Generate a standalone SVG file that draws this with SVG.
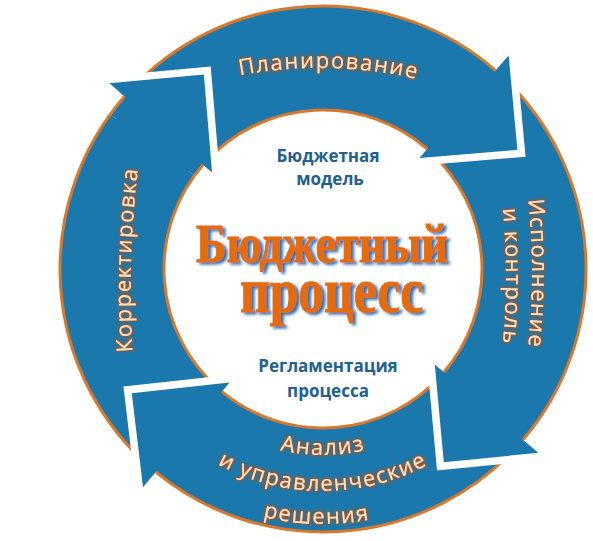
<svg xmlns="http://www.w3.org/2000/svg" xmlns:xlink="http://www.w3.org/1999/xlink" width="593" height="541" viewBox="0 0 593 541">
<defs>
<style>
.arrow{fill:#1a78ac;stroke:#ffffff;stroke-width:15;paint-order:stroke;stroke-linejoin:miter;stroke-miterlimit:4}
.edge{fill:none;stroke:#d8782c;stroke-width:3}
.lbl{font-family:"Open Sans","Noto Sans","DejaVu Sans",sans-serif;font-size:22px;letter-spacing:1.5px;fill:#fbe6c4;filter:url(#glow)}
.inner{font-family:"Open Sans","Noto Sans","DejaVu Sans",sans-serif;font-size:17px;font-weight:bold;fill:#22608f;text-anchor:middle}
.title{font-family:"Liberation Serif","Times New Roman",serif;font-weight:bold;fill:#e46c0a;stroke:#e46c0a;stroke-width:1;text-anchor:middle;filter:url(#shadow)}
</style>
<filter id="glow" x="-20%" y="-20%" width="140%" height="140%">
<feMorphology in="SourceAlpha" operator="dilate" radius="1" result="d"/>
<feGaussianBlur in="d" stdDeviation="0.9" result="b"/>
<feFlood flood-color="#b0501a"/>
<feComposite in2="b" operator="in" result="g"/>
<feMerge><feMergeNode in="g"/><feMergeNode in="SourceGraphic"/></feMerge>
</filter>
<filter id="shadow" x="-10%" y="-20%" width="120%" height="150%">
<feGaussianBlur in="SourceAlpha" stdDeviation="1.6" result="b"/>
<feOffset in="b" dx="3" dy="2" result="o"/>
<feFlood flood-color="#2f6fae"/>
<feComposite in2="o" operator="in" result="s"/>
<feMerge><feMergeNode in="s"/><feMergeNode in="SourceGraphic"/></feMerge>
</filter>
<clipPath id="clipL"><polygon points="323,269 64,81 104,8 188,-21"/></clipPath>
<path id="pT" d="M 232 77 A 430 430 0 0 1 425 81"/>
<path id="pR1" d="M 527 190 A 700 700 0 0 1 527 357"/>
<path id="pR2" d="M 501 193 A 700 700 0 0 1 501 360"/>
<path id="pL" d="M 133 358 A 1000 1000 0 0 1 139 162"/>
<path id="pB1" d="M 161.92 362 A 186 186 0 0 0 484.08 362"/>
<path id="pB2" d="M 130.74 380 A 222 222 0 0 0 515.26 380"/>
<path id="pB3" d="M 102.16 396.5 A 255 255 0 0 0 543.84 396.5"/>
</defs>
<rect width="593" height="541" fill="#ffffff"/>

<g id="cycle">
<g id="node-correction">
<g id="arrowL">
<path class="arrow" d="M 150.46 467.49 A 263 263 0 0 1 124.51 96.46 L 109.42 83.34 L 203.87 74.60 L 212.06 172.56 L 203.00 164.69 A 159 159 0 0 0 218.69 389.00 Z"/>
<path class="edge" d="M 150.46 467.49 A 263 263 0 0 1 124.51 96.46"/>
<path class="edge" d="M 218.69 389.00 A 159 159 0 0 1 203.00 164.69"/>
</g>
<text class="lbl"><textPath href="#pL" startOffset="50%" text-anchor="middle">Корректировка</textPath></text>
</g>

<g id="node-analysis">
<path class="arrow" d="M 518.45 444.98 A 263 263 0 0 1 155.71 471.94 L 142.99 487.37 L 131.78 393.18 L 229.50 382.43 L 221.86 391.69 A 159 159 0 0 0 441.16 375.39 Z"/>
<path class="edge" d="M 518.45 444.98 A 263 263 0 0 1 155.71 471.94"/>
<path class="edge" d="M 441.16 375.39 A 159 159 0 0 1 221.86 391.69"/>
<text class="lbl"><textPath href="#pB1" startOffset="50%" text-anchor="middle">Анализ</textPath></text>
<text class="lbl"><textPath href="#pB2" startOffset="50%" text-anchor="middle">и управленческие</textPath></text>
<text class="lbl"><textPath href="#pB3" startOffset="48.8%" text-anchor="middle">решения</textPath></text>
</g>

<g id="node-execution">
<path class="arrow" d="M 500.68 75.10 A 263 263 0 0 1 522.99 439.81 L 538.20 452.79 L 443.82 462.36 L 434.78 364.47 L 443.91 372.26 A 159 159 0 0 0 430.42 151.77 Z"/>
<path class="edge" d="M 500.68 75.10 A 263 263 0 0 1 522.99 439.81"/>
<path class="edge" d="M 430.42 151.77 A 159 159 0 0 1 443.91 372.26"/>
<text class="lbl"><textPath href="#pR1" startOffset="50%" text-anchor="middle">Исполнение</textPath></text>
<text class="lbl"><textPath href="#pR2" startOffset="50%" text-anchor="middle">и контроль</textPath></text>
</g>

<g id="node-planning">
<path class="arrow" d="M 129.10 91.32 A 263 263 0 0 1 495.54 70.51 L 508.66 55.42 L 517.40 149.87 L 419.44 158.06 L 427.31 149.00 A 159 159 0 0 0 205.77 161.58 Z"/>
<path class="edge" d="M 129.10 91.32 A 263 263 0 0 1 495.54 70.51"/>
<path class="edge" d="M 205.77 161.58 A 159 159 0 0 1 427.31 149.00"/>
<text class="lbl"><textPath href="#pT" startOffset="50%" text-anchor="middle">Планирование</textPath></text>
</g>

<use id="node-correction-head" href="#arrowL" clip-path="url(#clipL)"/>
</g>

<g id="center">
<g id="node-model">
<text class="inner" x="328" y="162">Бюджетная</text>
<text class="inner" x="330" y="185">модель</text>
</g>
<g id="node-title">
<text class="title" x="322" y="262" font-size="54" textLength="252" lengthAdjust="spacingAndGlyphs">Бюджетный</text>
<text class="title" x="331.5" y="312" font-size="64" textLength="183" lengthAdjust="spacingAndGlyphs">процесс</text>
</g>
<g id="node-rules">
<text class="inner" x="328" y="372">Регламентация</text>
<text class="inner" x="328" y="397">процесса</text>
</g>
</g>
</svg>
